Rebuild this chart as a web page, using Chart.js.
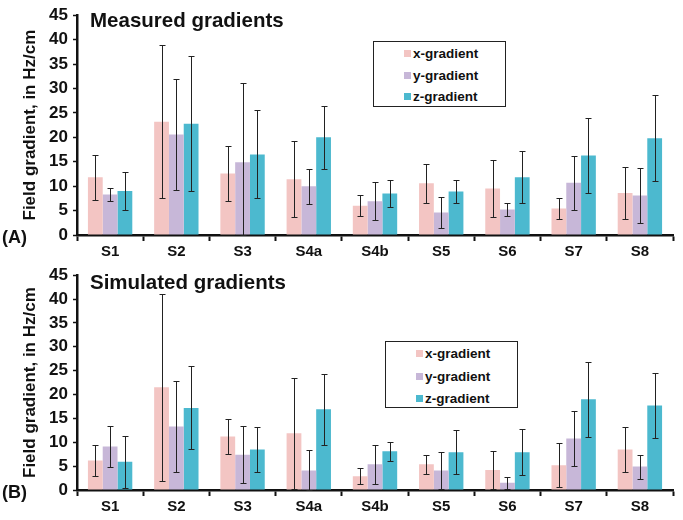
<!DOCTYPE html>
<html>
<head>
<meta charset="utf-8">
<script src="https://cdn.jsdelivr.net/npm/chart.js@4.4.1/dist/chart.umd.min.js"></script>
<style>
  html, body { margin: 0; padding: 0; background: #fff; }
  #page { position: relative; width: 683px; height: 520px; font-family: "Liberation Sans", Arial, sans-serif; }
  .panel { position: absolute; left: 0; width: 683px; height: 260px; }
  .legend { position: absolute; border: 1.5px solid #222; background: #fff; box-sizing: border-box; }
  .legend div { position: absolute; left: 30px; font-weight: bold; font-size: 13.5px; color: #111; white-space: nowrap; }
  .legend span { display: inline-block; width: 7px; height: 7px; margin-right: 2px; vertical-align: 1px; }
</style>
</head>
<body>
<div id="page">
  <div class="panel" style="top:0"><canvas id="measured" width="683" height="260"></canvas>
    <div class="legend" id="legA" style="left:373px; top:41px; width:133px; height:66px;"></div></div>
  <div class="panel" style="top:260px"><canvas id="simulated" width="683" height="260"></canvas>
    <div class="legend" id="legB" style="left:385px; top:81px; width:133px; height:67px;"></div></div>
</div>
<script>
// categories and y ticks
const samples = ['S1', 'S2', 'S3', 'S4a', 'S4b', 'S5', 'S6', 'S7', 'S8'];
const yMax = 45;
const yStep = 5;
const seriesNames = ['x-gradient', 'y-gradient', 'z-gradient'];
const seriesColors = ['#f3c5c3', '#c7b7d8', '#4cb9cf'];

// (A) measured gradients, Hz/cm, with +/- error
const measX = [11.8, 23.2, 12.6, 11.4, 6.0, 10.6, 9.5, 5.4, 8.6];
const measXErr = [4.6, 15.7, 5.6, 7.8, 2.2, 4.0, 5.9, 2.1, 5.4];
const measY = [8.3, 20.6, 14.9, 10.0, 6.9, 4.6, 5.2, 10.7, 8.1];
const measYErr = [1.3, 11.4, 16.3, 3.6, 3.9, 3.1, 1.3, 5.5, 5.7];
const measZ = [9.0, 22.8, 16.5, 20.0, 8.5, 8.9, 11.8, 16.3, 19.8];
const measZErr = [3.9, 13.8, 9.0, 6.4, 2.7, 2.3, 5.3, 7.6, 8.8];

// (B) simulated gradients
const simX = [6.2, 21.5, 11.2, 11.9, 2.9, 5.4, 4.2, 5.2, 8.5];
const simXErr = [3.2, 19.6, 3.6, 11.6, 1.7, 2.0, 4.0, 4.6, 4.7];
const simY = [9.1, 13.3, 7.4, 4.1, 5.4, 4.1, 1.5, 10.8, 4.9];
const simYErr = [4.3, 9.6, 6.0, 4.3, 4.1, 3.8, 1.3, 5.8, 2.5];
const simZ = [5.9, 17.2, 8.5, 16.9, 8.1, 7.9, 7.9, 19.0, 17.7];
const simZErr = [5.4, 8.7, 4.8, 7.4, 2.0, 4.6, 4.8, 7.8, 6.9];

const FONT = '"Liberation Sans", Arial, sans-serif';

// draws the error bars from each dataset's errors array
const errorBars = {
    id: 'errorBars',
    afterDatasetsDraw(chart) {
        const ctx = chart.ctx;
        const yScale = chart.scales.y;
        ctx.save();
        ctx.strokeStyle = '#222';
        ctx.lineWidth = 1;
        chart.data.datasets.forEach((ds, i) => {
            const meta = chart.getDatasetMeta(i);
            meta.data.forEach((bar, j) => {
                const v = ds.data[j], e = ds.errors[j];
                const top = Math.round(yScale.getPixelForValue(v + e)) + 0.5;
                const bot = Math.round(yScale.getPixelForValue(Math.max(0, v - e))) + 0.5;
                const x = Math.round(bar.x) + 0.5;
                ctx.beginPath();
                ctx.moveTo(x, top); ctx.lineTo(x, bot);
                ctx.moveTo(x - 3, top); ctx.lineTo(x + 3, top);
                ctx.moveTo(x - 3, bot); ctx.lineTo(x + 3, bot);
                ctx.stroke();
            });
        });
        ctx.restore();
    }
};

// panel title inside the plot and the (A)/(B) tag
const panelText = {
    id: 'panelText',
    afterDraw(chart, args, opts) {
        const ctx = chart.ctx;
        const area = chart.chartArea;
        ctx.save();
        ctx.fillStyle = '#111';
        ctx.textBaseline = 'alphabetic';
        ctx.font = 'bold 20.5px ' + FONT;
        ctx.fillText(opts.title, area.left + 13, area.top + opts.titleDy);
        ctx.font = 'bold 18px ' + FONT;
        ctx.fillText(opts.tag, 2, area.bottom + 8);
        ctx.restore();
    }
};

function makeChart(id, series, errs, title, tag, padTop, xHeight, titleDy) {
    const datasets = series.map((vals, k) => ({
        label: seriesNames[k],
        data: vals,
        errors: errs[k],
        backgroundColor: seriesColors[k],
        borderWidth: 0,
        barPercentage: 1.0,
        categoryPercentage: 0.67
    }));
    return new Chart(document.getElementById(id).getContext('2d'), {
        type: 'bar',
        data: { labels: samples, datasets: datasets },
        options: {
            responsive: false,
            animation: false,
            layout: { padding: { top: padTop, right: 10, left: 0, bottom: 0 } },
            plugins: {
                legend: { display: false },
                tooltip: { enabled: false },
                panelText: { title: title, tag: tag, titleDy: titleDy }
            },
            scales: {
                x: {
                    grid: { display: true, drawOnChartArea: false, offset: true, tickLength: 6, tickWidth: 2, tickColor: '#111' },
                    border: { display: true, color: '#111', width: 2.5 },
                    ticks: { color: '#111', font: { family: FONT, size: 15, weight: 'bold' }, padding: 2 },
                    afterFit(s) { s.height = xHeight; }
                },
                y: {
                    min: 0,
                    max: yMax,
                    grid: { display: true, drawOnChartArea: false, tickLength: 4, tickWidth: 1.5, tickColor: '#111' },
                    border: { display: true, color: '#111', width: 2.5 },
                    ticks: { stepSize: yStep, color: '#111', font: { family: FONT, size: 17, weight: 'bold' }, padding: 5 },
                    title: { display: true, text: 'Field gradient, in Hz/cm', color: '#111', font: { family: FONT, size: 17, weight: 'bold' }, padding: { top: 20, bottom: 0 } },
                    afterFit(s) { s.width = 77; }
                }
            }
        },
        plugins: [errorBars, panelText]
    });
}

function buildLegend(elId, chart, rowTops) {
    const box = document.getElementById(elId);
    chart.data.datasets.forEach((ds, k) => {
        const row = document.createElement('div');
        row.style.top = rowTops[k] + 'px';
        const sw = document.createElement('span');
        sw.style.background = ds.backgroundColor;
        row.appendChild(sw);
        row.appendChild(document.createTextNode(ds.label));
        box.appendChild(row);
    });
}

const chartA = makeChart('measured', [measX, measY, measZ], [measXErr, measYErr, measZErr],
    'Measured gradients', '(A)', 14, 25, 12);
const chartB = makeChart('simulated', [simX, simY, simZ], [simXErr, simYErr, simZErr],
    'Simulated gradients', '(B)', 12, 30, 14);

buildLegend('legA', chartA, [4, 26, 47]);
buildLegend('legB', chartB, [4, 27, 49]);
</script>
</body>
</html>
